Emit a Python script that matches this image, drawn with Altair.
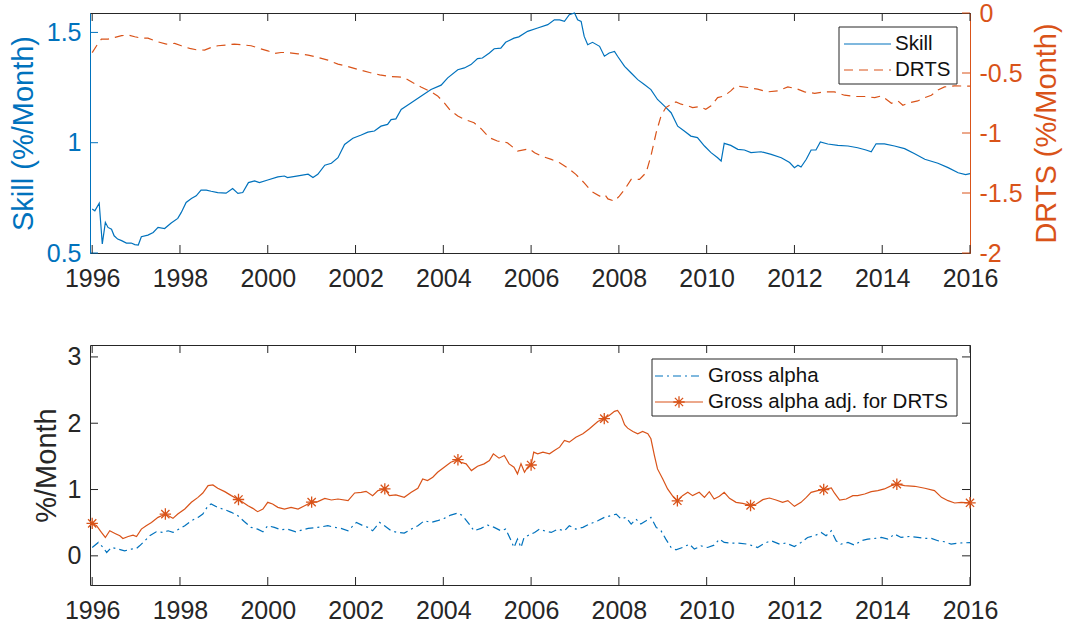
import altair as alt
import pandas as pd

# ---------------- data (decimal years, %/month) ----------------
skill_years = [
    1996.00, 1996.06, 1996.16, 1996.23, 1996.30, 1996.36, 1996.44, 1996.50, 1996.58, 1996.67,
    1996.78, 1996.89, 1996.97, 1997.05, 1997.12, 1997.27, 1997.39, 1997.50, 1997.65, 1997.80,
    1997.95, 1998.03, 1998.14, 1998.26, 1998.37, 1998.48, 1998.60, 1998.71, 1998.86, 1999.05,
    1999.20, 1999.32, 1999.43, 1999.56, 1999.70, 1999.81, 2000.00, 2000.23, 2000.38, 2000.45,
    2000.69, 2000.92, 2001.03, 2001.14, 2001.30, 2001.45, 2001.60, 2001.75, 2001.94, 2002.13,
    2002.28, 2002.43, 2002.58, 2002.73, 2002.81, 2002.92, 2003.04, 2003.27, 2003.49, 2003.72,
    2003.95, 2004.10, 2004.33, 2004.48, 2004.63, 2004.78, 2004.89, 2005.05, 2005.16, 2005.31,
    2005.42, 2005.61, 2005.72, 2005.92, 2006.15, 2006.38, 2006.53, 2006.65, 2006.76, 2006.87,
    2006.99, 2007.06, 2007.14, 2007.21, 2007.29, 2007.40, 2007.56, 2007.67, 2007.78, 2007.90,
    2007.97, 2008.13, 2008.28, 2008.43, 2008.58, 2008.73, 2008.88, 2009.04, 2009.19, 2009.34,
    2009.49, 2009.64, 2009.79, 2009.95, 2010.10, 2010.25, 2010.33, 2010.40, 2010.55, 2010.71,
    2010.86, 2011.01, 2011.24, 2011.47, 2011.70, 2011.89, 2012.00, 2012.08, 2012.15, 2012.27,
    2012.38, 2012.49, 2012.59, 2012.76, 2012.99, 2013.22, 2013.44, 2013.63, 2013.75, 2013.86,
    2014.05, 2014.28, 2014.51, 2014.74, 2014.97, 2015.27, 2015.50, 2015.73, 2015.90, 2016.00,
]
skill_values = [
    0.699, 0.691, 0.726, 0.541, 0.639, 0.616, 0.608, 0.578, 0.563, 0.556,
    0.545, 0.545, 0.538, 0.536, 0.574, 0.581, 0.593, 0.616, 0.611, 0.636,
    0.657, 0.684, 0.729, 0.747, 0.759, 0.785, 0.785, 0.780, 0.774, 0.771,
    0.792, 0.770, 0.774, 0.819, 0.827, 0.819, 0.831, 0.845, 0.849, 0.842,
    0.850, 0.857, 0.842, 0.857, 0.898, 0.907, 0.932, 0.992, 1.020, 1.035,
    1.048, 1.053, 1.075, 1.083, 1.105, 1.108, 1.151, 1.181, 1.211, 1.241,
    1.261, 1.294, 1.331, 1.339, 1.354, 1.381, 1.384, 1.407, 1.426, 1.429,
    1.455, 1.474, 1.480, 1.505, 1.520, 1.535, 1.557, 1.557, 1.550, 1.580,
    1.588, 1.557, 1.550, 1.482, 1.444, 1.455, 1.437, 1.392, 1.407, 1.414,
    1.392, 1.346, 1.316, 1.286, 1.264, 1.241, 1.196, 1.166, 1.136, 1.075,
    1.053, 1.030, 1.023, 0.985, 0.955, 0.932, 0.917, 0.997, 0.988, 0.970,
    0.967, 0.955, 0.959, 0.947, 0.932, 0.910, 0.887, 0.898, 0.890, 0.925,
    0.967, 0.967, 1.003, 0.994, 0.988, 0.985, 0.977, 0.967, 0.959, 0.995,
    0.995, 0.985, 0.973, 0.950, 0.925, 0.907, 0.887, 0.864, 0.855, 0.860,
]

drts_years = [
    1996.00, 1996.10, 1996.21, 1996.36, 1996.52, 1996.67, 1996.82, 1996.97, 1997.12, 1997.27,
    1997.46, 1997.69, 1997.88, 1998.03, 1998.22, 1998.37, 1998.56, 1998.71, 1998.86, 1999.05,
    1999.24, 1999.47, 1999.62, 1999.81, 2000.00, 2000.15, 2000.30, 2000.45, 2000.69, 2000.92,
    2001.14, 2001.37, 2001.60, 2001.83, 2002.09, 2002.32, 2002.55, 2002.77, 2002.96, 2003.11,
    2003.30, 2003.49, 2003.72, 2003.87, 2004.02, 2004.17, 2004.33, 2004.48, 2004.70, 2004.86,
    2005.05, 2005.23, 2005.46, 2005.69, 2005.96, 2006.08, 2006.23, 2006.46, 2006.65, 2006.83,
    2007.02, 2007.21, 2007.37, 2007.56, 2007.68, 2007.75, 2007.90, 2008.01, 2008.13, 2008.28,
    2008.47, 2008.62, 2008.73, 2008.85, 2008.96, 2009.07, 2009.19, 2009.30, 2009.42, 2009.57,
    2009.68, 2009.83, 2009.98, 2010.10, 2010.25, 2010.40, 2010.55, 2010.67, 2010.94, 2011.16,
    2011.39, 2011.62, 2011.85, 2012.04, 2012.23, 2012.46, 2012.68, 2012.91, 2013.14, 2013.37,
    2013.60, 2013.83, 2013.98, 2014.09, 2014.21, 2014.36, 2014.47, 2014.62, 2014.81, 2014.97,
    2015.12, 2015.27, 2015.42, 2015.65, 2016.00,
]
drts_values = [
    -0.330, -0.273, -0.217, -0.217, -0.203, -0.189, -0.184, -0.198, -0.209, -0.209,
    -0.237, -0.259, -0.253, -0.273, -0.295, -0.306, -0.309, -0.287, -0.273, -0.267,
    -0.259, -0.267, -0.273, -0.295, -0.315, -0.337, -0.329, -0.329, -0.340, -0.351,
    -0.370, -0.393, -0.426, -0.446, -0.474, -0.496, -0.515, -0.529, -0.532, -0.538,
    -0.579, -0.616, -0.657, -0.691, -0.747, -0.816, -0.858, -0.886, -0.914, -0.964,
    -1.039, -1.067, -1.081, -1.150, -1.131, -1.164, -1.192, -1.220, -1.248, -1.290,
    -1.345, -1.415, -1.485, -1.526, -1.513, -1.549, -1.568, -1.526, -1.471, -1.387,
    -1.387, -1.331, -1.192, -0.997, -0.858, -0.788, -0.760, -0.741, -0.760, -0.774,
    -0.788, -0.780, -0.802, -0.774, -0.705, -0.691, -0.649, -0.607, -0.621, -0.635,
    -0.657, -0.649, -0.616, -0.630, -0.657, -0.669, -0.657, -0.657, -0.685, -0.696,
    -0.696, -0.705, -0.691, -0.719, -0.752, -0.733, -0.769, -0.747, -0.733, -0.705,
    -0.685, -0.641, -0.616, -0.607, -0.610,
]

gross_years = [
    1996.00, 1996.14, 1996.25, 1996.33, 1996.44, 1996.59, 1996.74, 1996.89, 1997.01, 1997.08,
    1997.20, 1997.31, 1997.46, 1997.61, 1997.73, 1997.84, 1997.95, 1998.11, 1998.26, 1998.41,
    1998.52, 1998.64, 1998.71, 1998.86, 1999.02, 1999.17, 1999.32, 1999.47, 1999.62, 1999.77,
    1999.89, 2000.00, 2000.15, 2000.30, 2000.45, 2000.64, 2000.92, 2001.14, 2001.37, 2001.52,
    2001.67, 2001.83, 2002.02, 2002.17, 2002.28, 2002.39, 2002.55, 2002.66, 2002.81, 2002.96,
    2003.11, 2003.27, 2003.42, 2003.57, 2003.72, 2003.87, 2004.02, 2004.17, 2004.33, 2004.44,
    2004.59, 2004.70, 2004.86, 2005.01, 2005.16, 2005.31, 2005.42, 2005.53, 2005.61, 2005.69,
    2005.77, 2005.84, 2005.92, 2006.08, 2006.19, 2006.30, 2006.46, 2006.61, 2006.76, 2006.87,
    2007.02, 2007.18, 2007.33, 2007.52, 2007.67, 2007.82, 2007.94, 2008.05, 2008.16, 2008.28,
    2008.39, 2008.50, 2008.62, 2008.73, 2008.85, 2008.96, 2009.07, 2009.19, 2009.30, 2009.45,
    2009.61, 2009.72, 2009.87, 2010.02, 2010.17, 2010.29, 2010.40, 2010.55, 2010.71, 2010.94,
    2011.16, 2011.32, 2011.47, 2011.66, 2011.81, 2012.00, 2012.15, 2012.30, 2012.46, 2012.61,
    2012.72, 2012.84, 2012.95, 2013.06, 2013.22, 2013.37, 2013.52, 2013.67, 2013.83, 2013.98,
    2014.13, 2014.28, 2014.43, 2014.62, 2014.81, 2014.97, 2015.12, 2015.27, 2015.42, 2015.57,
    2015.73, 2016.00,
]
gross_values = [
    0.126, 0.202, 0.126, 0.050, 0.126, 0.101, 0.076, 0.101, 0.111, 0.151,
    0.227, 0.303, 0.363, 0.353, 0.378, 0.353, 0.393, 0.454, 0.530, 0.580,
    0.630, 0.756, 0.782, 0.731, 0.696, 0.656, 0.605, 0.514, 0.429, 0.403,
    0.363, 0.454, 0.429, 0.393, 0.403, 0.363, 0.414, 0.429, 0.454, 0.429,
    0.414, 0.378, 0.504, 0.454, 0.429, 0.378, 0.504, 0.454, 0.378, 0.353,
    0.343, 0.403, 0.454, 0.530, 0.504, 0.530, 0.565, 0.615, 0.646, 0.605,
    0.479, 0.378, 0.414, 0.464, 0.429, 0.378, 0.403, 0.252, 0.126, 0.252,
    0.126, 0.277, 0.303, 0.353, 0.403, 0.378, 0.353, 0.403, 0.378, 0.454,
    0.403, 0.429, 0.479, 0.530, 0.580, 0.605, 0.630, 0.555, 0.580, 0.479,
    0.555, 0.479, 0.530, 0.580, 0.429, 0.378, 0.252, 0.126, 0.091, 0.126,
    0.176, 0.101, 0.151, 0.126, 0.161, 0.252, 0.202, 0.192, 0.192, 0.176,
    0.126, 0.192, 0.227, 0.176, 0.192, 0.141, 0.202, 0.277, 0.303, 0.353,
    0.303, 0.378, 0.227, 0.176, 0.202, 0.161, 0.227, 0.252, 0.262, 0.277,
    0.252, 0.328, 0.277, 0.292, 0.277, 0.262, 0.262, 0.227, 0.212, 0.176,
    0.192, 0.200,
]

adj_years = [
    1996.10, 1996.21, 1996.30, 1996.40, 1996.52, 1996.63, 1996.70, 1996.82, 1996.93, 1997.01,
    1997.12, 1997.23, 1997.35, 1997.50, 1997.84, 1997.95, 1998.11, 1998.26, 1998.41, 1998.52,
    1998.64, 1998.75, 1998.86, 1999.02, 1999.17, 1999.43, 1999.55, 1999.66, 1999.77, 1999.89,
    2000.00, 2000.11, 2000.23, 2000.38, 2000.53, 2000.69, 2000.84, 2001.14, 2001.30, 2001.45,
    2001.60, 2001.83, 2001.98, 2002.13, 2002.24, 2002.39, 2002.51, 2002.77, 2002.92, 2003.11,
    2003.27, 2003.42, 2003.53, 2003.64, 2003.76, 2003.87, 2004.02, 2004.17, 2004.40, 2004.52,
    2004.64, 2004.78, 2004.93, 2005.05, 2005.14, 2005.27, 2005.39, 2005.50, 2005.61, 2005.69,
    2005.77, 2005.85, 2005.92, 2006.06, 2006.15, 2006.27, 2006.42, 2006.53, 2006.65, 2006.76,
    2006.87, 2007.02, 2007.18, 2007.33, 2007.52, 2007.78, 2007.90, 2007.97, 2008.05, 2008.13,
    2008.20, 2008.32, 2008.43, 2008.54, 2008.66, 2008.73, 2008.81, 2008.88, 2009.00, 2009.11,
    2009.23, 2009.45, 2009.57, 2009.68, 2009.83, 2009.95, 2010.06, 2010.17, 2010.29, 2010.40,
    2010.52, 2010.67, 2010.82, 2011.13, 2011.28, 2011.43, 2011.58, 2011.73, 2011.85, 2012.00,
    2012.15, 2012.27, 2012.38, 2012.53, 2012.84, 2012.91, 2013.03, 2013.18, 2013.33, 2013.44,
    2013.60, 2013.75, 2013.90, 2014.05, 2014.21, 2014.51, 2014.74, 2014.97, 2015.19, 2015.35,
    2015.50, 2015.65, 2015.80,
]
adj_values = [
    0.454, 0.353, 0.277, 0.378, 0.338, 0.303, 0.262, 0.292, 0.313, 0.292,
    0.403, 0.454, 0.504, 0.580, 0.565, 0.630, 0.706, 0.807, 0.882, 0.948,
    1.059, 1.069, 1.019, 0.968, 0.908, 0.807, 0.756, 0.716, 0.666, 0.706,
    0.807, 0.782, 0.731, 0.706, 0.731, 0.706, 0.756, 0.817, 0.867, 0.842,
    0.857, 0.832, 0.948, 0.958, 0.973, 0.908, 0.983, 0.908, 0.918, 0.882,
    0.958, 1.019, 1.160, 1.135, 1.185, 1.261, 1.336, 1.412, 1.412, 1.387,
    1.286, 1.351, 1.387, 1.437, 1.538, 1.473, 1.513, 1.387, 1.336, 1.236,
    1.390, 1.260, 1.336, 1.563, 1.538, 1.563, 1.538, 1.589, 1.639, 1.740,
    1.715, 1.790, 1.841, 1.916, 2.027, 2.118, 2.179, 2.194, 2.118, 1.977,
    1.926, 1.876, 1.841, 1.876, 1.841, 1.765, 1.513, 1.311, 1.160, 1.009,
    0.898, 0.908, 0.958, 0.908, 0.958, 0.882, 0.968, 0.857, 0.898, 0.958,
    0.867, 0.807, 0.790, 0.782, 0.847, 0.872, 0.842, 0.807, 0.832, 0.746,
    0.807, 0.882, 0.958, 0.983, 1.024, 0.948, 0.842, 0.857, 0.908, 0.908,
    0.933, 0.968, 0.983, 1.009, 1.059, 1.059, 1.049, 1.019, 0.983, 0.882,
    0.832, 0.797, 0.807,
]

# every 20th month of the adjusted series carries a marker
star_years = [1996.000, 1997.667, 1999.333, 2001.000, 2002.667, 2004.333, 2006.000,
              2007.667, 2009.333, 2011.000, 2012.667, 2014.333, 2016.000]
star_values = [0.49, 0.63, 0.85, 0.81, 1.01, 1.45, 1.37, 2.07, 0.83, 0.76, 1.00, 1.08, 0.80]

year_ticks = list(range(1996, 2017, 2))
skill_ticks = [0.5, 1.0, 1.5]
drts_ticks = [0, -0.5, -1, -1.5, -2]
alpha_ticks = [0, 1, 2, 3]

# ---------------- styling ----------------
BLUE = "#0072BD"
ORANGE = "#D95319"
AXIS = "#262626"
FONT = "Liberation Sans"
W, H = 880, 240
TICK = 8
LW = 1.2
LABEL = 25
TITLE = 29
LEG = 20.5
STAR = "M0,-1L0,1M-1,0L1,0M-0.72,-0.72L0.72,0.72M-0.72,0.72L0.72,-0.72"


def frame(xs, ys):
    return pd.DataFrame({"year": xs, "value": ys})


one = pd.DataFrame({"k": [0]})

x_axis = alt.Axis(values=year_ticks, format="d", ticks=False, domain=False, grid=False,
                  labelFontSize=LABEL, labelColor=AXIS, labelPadding=13, labelFlush=False,
                  labelOverlap=False, title=None)
x_enc = alt.X("year:Q", scale=alt.Scale(domain=[1995.95, 2016.0], nice=False, zero=False),
              axis=x_axis)


def y_axis(values, color, title, title_x, orient="left", show_domain=True):
    kw = dict(values=values, orient=orient, labelExpr="toString(datum.value)", ticks=False,
              grid=False, labelFontSize=LABEL, labelColor=color, labelPadding=9,
              labelOverlap=False, title=title, titleColor=color, titleFontSize=TITLE,
              titleFontWeight="normal", titleAngle=270, titleX=title_x, titleY=H / 2,
              titleAlign="center", titleBaseline="middle")
    if show_domain:
        kw.update(domain=True, domainColor=color, domainWidth=1)
    else:
        kw.update(domain=False)
    return alt.Axis(**kw)


def x_tick_marks():
    base = alt.Chart(pd.DataFrame({"year": year_ticks}))
    bottom = base.mark_rule(color=AXIS, strokeWidth=1).encode(
        x=x_enc, y=alt.value(H), y2=alt.value(H - TICK))
    top = base.mark_rule(color=AXIS, strokeWidth=1).encode(
        x=x_enc, y=alt.value(0), y2=alt.value(TICK))
    return [bottom, top]


def y_tick_marks(values, y_enc, color, side):
    x1, x2 = (0, TICK) if side == "left" else (W - TICK, W)
    return alt.Chart(pd.DataFrame({"value": values})).mark_rule(
        color=color, strokeWidth=1).encode(y=y_enc, x=alt.value(x1), x2=alt.value(x2))


def legend_box(x1, x2, y1, y2):
    return alt.Chart(one).mark_rect(fill="white", stroke=AXIS, strokeWidth=1).encode(
        x=alt.value(x1), x2=alt.value(x2), y=alt.value(y1), y2=alt.value(y2))


def legend_line(x1, x2, y, color, dash=None):
    kw = dict(color=color, strokeWidth=LW)
    if dash:
        kw["strokeDash"] = dash
    return alt.Chart(one).mark_rule(**kw).encode(
        x=alt.value(x1), x2=alt.value(x2), y=alt.value(y))


def legend_text(x, y, label):
    return alt.Chart(one).mark_text(align="left", baseline="middle", fontSize=LEG,
                                    font=FONT, color="#111111").encode(
        x=alt.value(x), y=alt.value(y), text=alt.value(label))


# ---------------- upper panel: Skill vs DRTS ----------------
skill_y = alt.Y("value:Q", scale=alt.Scale(domain=[0.5, 1.588], nice=False, zero=False),
                axis=y_axis(skill_ticks, BLUE, "Skill (%/Month)", -67))
drts_y = alt.Y("value:Q", scale=alt.Scale(domain=[-2, 0], nice=False, zero=False),
               axis=y_axis(drts_ticks, ORANGE, "DRTS (%/Month)", 76, orient="right"))

skill_line = alt.Chart(frame(skill_years, skill_values)).mark_line(
    color=BLUE, strokeWidth=LW).encode(x=x_enc, y=skill_y)
drts_line = alt.Chart(frame(drts_years, drts_values)).mark_line(
    color=ORANGE, strokeWidth=LW, strokeDash=[9, 6]).encode(x=x_enc, y=drts_y)

left_group = alt.layer(skill_line, y_tick_marks(skill_ticks, skill_y, BLUE, "left"))
right_group = alt.layer(
    drts_line,
    y_tick_marks(drts_ticks, drts_y, ORANGE, "right"),
    *x_tick_marks(),
    legend_box(W - 131, W - 13, 14, 71),
    legend_line(W - 126, W - 79, 31, BLUE),
    legend_line(W - 126, W - 79, 57, ORANGE, [9, 6]),
    legend_text(W - 75, 31, "Skill"),
    legend_text(W - 75, 57, "DRTS"),
)
upper = alt.layer(left_group, right_group).resolve_scale(y="independent").properties(
    width=W, height=H)

# ---------------- lower panel: gross alpha ----------------
alpha_y = alt.Y("value:Q", scale=alt.Scale(domain=[-0.44, 3.18], nice=False, zero=False),
                axis=y_axis(alpha_ticks, AXIS, "%/Month", -44, show_domain=False))

gross_line = alt.Chart(frame(gross_years, gross_values)).mark_line(
    color=BLUE, strokeWidth=LW, strokeDash=[8, 4, 2, 4]).encode(x=x_enc, y=alpha_y)
adj_line = alt.Chart(frame(adj_years + star_years, adj_values + star_values)).mark_line(
    color=ORANGE, strokeWidth=LW).encode(x=x_enc, y=alpha_y)
adj_stars = alt.Chart(frame(star_years, star_values)).mark_point(
    shape=STAR, filled=False, color=ORANGE, strokeWidth=1.3, size=130, opacity=1).encode(
    x=x_enc, y=alpha_y)

lower = alt.layer(
    gross_line,
    adj_line,
    adj_stars,
    y_tick_marks(alpha_ticks, alpha_y, AXIS, "left"),
    y_tick_marks(alpha_ticks, alpha_y, AXIS, "right"),
    *x_tick_marks(),
    legend_box(W - 318, W - 13, 14, 71),
    legend_line(W - 315, W - 267, 31, BLUE, [8, 4, 2, 4]),
    legend_line(W - 315, W - 267, 57, ORANGE),
    alt.Chart(one).mark_point(shape=STAR, filled=False, color=ORANGE, strokeWidth=1.3,
                              size=130, opacity=1).encode(x=alt.value(W - 291),
                                                          y=alt.value(57)),
    legend_text(W - 262, 31, "Gross alpha"),
    legend_text(W - 262, 57, "Gross alpha adj. for DRTS"),
).properties(width=W, height=H)

chart = alt.vconcat(upper, lower, spacing=52).properties(
    background="white",
    padding={"left": 8, "top": 0, "right": 4, "bottom": 4},
).configure(font=FONT).configure_view(stroke=AXIS, strokeWidth=1).configure_axis(
    labelFont=FONT, titleFont=FONT)

chart.save("out.html", embed_options={"renderer": "svg", "actions": False})
